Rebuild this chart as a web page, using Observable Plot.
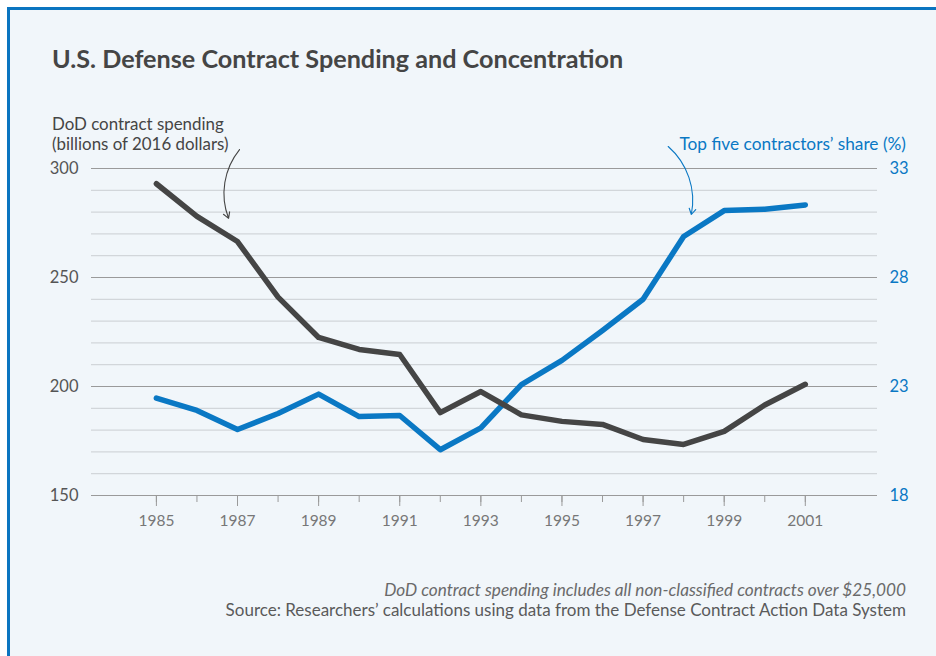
<!DOCTYPE html>
<html>
<head>
<meta charset="utf-8">
<script src="https://cdn.jsdelivr.net/npm/d3@7"></script>
<script src="https://cdn.jsdelivr.net/npm/@observablehq/plot@0.6"></script>
<style>
  html, body { margin: 0; padding: 0; background: #ffffff; width: 936px; height: 656px; overflow: hidden; }
  body { position: relative; font-family: "Lato", "Open Sans", sans-serif; }
  #frame { position: absolute; left: 7px; top: 7px; width: 940px; height: 660px; background: #f1f6fa;
           border-left: 3px solid #0b75c0; border-top: 3px solid #0b75c0; box-sizing: border-box; }
  .abs { position: absolute; white-space: nowrap; }
  #title { left: 52px; top: 43px; font-size: 25.2px; font-weight: 700; color: #454545; }
  #lab1 { left: 52px; top: 114px; font-size: 16.9px; line-height: 20px; color: #454545; }
  #lab2 { right: 30px; top: 134px; font-size: 17.3px; line-height: 20px; color: #0a78c4; }
  #cap1 { right: 30px; top: 579px; font-size: 17.2px; font-style: italic; color: #6a6a6a; }
  #cap2 { right: 30px; top: 599px; font-size: 17px; color: #5a5a5a; }
  #chart { position: absolute; left: 0; top: 100px; }
</style>
</head>
<body>
<div id="frame"></div>
<div class="abs" id="title">U.S. Defense Contract Spending and Concentration</div>
<div class="abs" id="lab1">DoD contract spending<br>(billions of 2016 dollars)</div>
<div class="abs" id="lab2">Top five contractors’ share (%)</div>
<div class="abs" id="cap1">DoD contract spending includes all non-classified contracts over $25,000</div>
<div class="abs" id="cap2">Source: Researchers’ calculations using data from the Defense Contract Action Data System</div>
<div id="chart"></div>
<script>
const years = [1985, 1986, 1987, 1988, 1989, 1990, 1991, 1992, 1993, 1994, 1995, 1996, 1997, 1998, 1999, 2000, 2001];
const spending = [293, 278, 266.5, 241, 222.5, 217, 214.7, 188, 197.7, 187, 184, 182.6, 175.7, 173.4, 179.4, 191.5, 201];
const share = [22.47, 21.9, 21.03, 21.76, 22.65, 21.62, 21.67, 20.1, 21.1, 23.09, 24.2, 25.57, 27.0, 29.88, 31.07, 31.13, 31.33];
const leftTicks = [150, 200, 250, 300];
const rightTickLabels = [18, 23, 28, 33];
const minorGrid = d3.range(160, 300, 10).filter(v => v % 50 !== 0);
const labeledYears = [1985, 1987, 1989, 1991, 1993, 1995, 1997, 1999, 2001];

// map share (right axis, 18–33) onto spending scale (150–300)
const toLeft = s => 150 + (s - 18) * 10;

const spendData = years.map((y, i) => ({year: y, value: spending[i]}));
const shareData = years.map((y, i) => ({year: y, value: toLeft(share[i])}));

const GRAY = "#454545", BLUE = "#0a78c4";

const chart = Plot.plot({
  width: 936,
  height: 440,
  marginLeft: 91,
  marginRight: 59,
  marginTop: 68,
  marginBottom: 45,
  style: {background: "transparent", fontFamily: "Lato, 'Open Sans', sans-serif", overflow: "visible"},
  x: {domain: [1983.4, 2002.78]},
  y: {domain: [150, 300]},
  marks: [
    Plot.ruleY(minorGrid, {stroke: "#d2d6da", strokeWidth: 1.2}),
    Plot.ruleY(leftTicks, {stroke: "#9a9a9a", strokeWidth: 1.2}),
    Plot.axisY(leftTicks, {anchor: "left", tickSize: 0, tickPadding: 13, fontSize: 16.5, color: "#555", label: null}),
    Plot.axisY(leftTicks, {anchor: "right", tickSize: 0, tickPadding: 12, fontSize: 16.5, color: BLUE, label: null,
      tickFormat: d => rightTickLabels[leftTicks.indexOf(d)]}),
    Plot.axisX(years, {tickSize: 7, tickFormat: () => "", stroke: "#9a9a9a", label: null}),
    Plot.axisX(labeledYears, {tickSize: 11, tickPadding: 8, fontSize: 15.5, color: "#777", stroke: "#9a9a9a", tickFormat: d => String(d), label: null}),
    Plot.line(shareData, {x: "year", y: "value", stroke: BLUE, strokeWidth: 5.5}),
    Plot.line(spendData, {x: "year", y: "value", stroke: GRAY, strokeWidth: 5.5}),
    Plot.arrow([{x1: 1987.05, y1: 308.7, x2: 1986.78, y2: 277.1}], {x1: "x1", y1: "y1", x2: "x2", y2: "y2", bend: -30, stroke: GRAY, strokeWidth: 1.1, headLength: 9}),
    Plot.arrow([{x1: 1997.62, y1: 310.1, x2: 1998.19, y2: 278.9}], {x1: "x1", y1: "y1", x2: "x2", y2: "y2", bend: 30, stroke: BLUE, strokeWidth: 1.1, headLength: 9})
  ]
});
document.getElementById("chart").appendChild(chart);
</script>
</body>
</html>
